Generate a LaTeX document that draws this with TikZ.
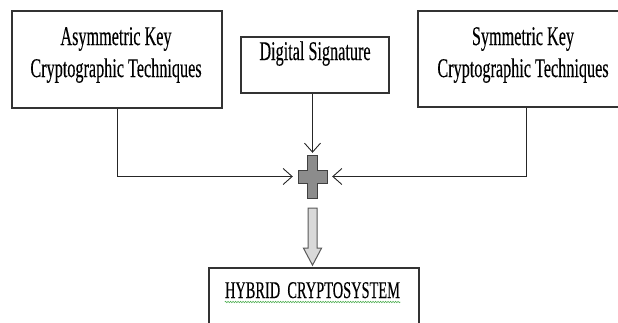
\documentclass[tikz,border=0pt]{standalone}
\usepackage{xcolor}
\usepackage{fontspec}
\usepackage{tikz}
\usetikzlibrary{arrows.meta, positioning, decorations.pathmorphing, calc}
\newfontfamily\boxfont[FakeStretch=0.6, FakeBold=0.25]{Liberation Serif}
\definecolor{boxedge}{HTML}{333333}
\definecolor{plusfill}{HTML}{8C8C8C}
\definecolor{plusedge}{HTML}{404040}
\definecolor{blockfill}{HTML}{D9D9D9}
\definecolor{blockedge}{HTML}{595959}
\definecolor{spellgreen}{HTML}{4CAF50}
\newcommand{\plussign}[1]{%
  \begin{scope}[shift={(#1)}]
    \draw[fill=plusfill, draw=plusedge, line width=1pt] (-5,-21.5) -- (5,-21.5) -- (5,-6.5) -- (14.5,-6.5) -- (14.5,6.5) -- (5,6.5) -- (5,21.5) -- (-5,21.5) -- (-5,6.5) -- (-14.5,6.5) -- (-14.5,-6.5) -- (-5,-6.5) -- cycle;
  \end{scope}%
}
\newcommand{\downblock}[1]{%
  \begin{scope}[shift={(#1)}]
    \draw[fill=blockfill, draw=blockedge, line width=1pt] (-4.5,0) -- (4.5,0) -- (4.5,40) -- (9,40) -- (0,57) -- (-9,40) -- (-4.5,40) -- cycle;
  \end{scope}%
}
\tikzset{
  techbox/.style={draw=boxedge, line width=1.2pt, fill=white, inner sep=0pt},
  techtext/.style={font=\boxfont\fontsize{27}{32}\selectfont, align=center, inner sep=0pt},
  joinline/.style={draw=black!85, line width=0.9pt, -{Straight Barb[length=9pt, width=16pt]}}
}

\begin{document}
\begin{tikzpicture}[x=1pt, y=-1pt]
    \path[use as bounding box] (0,0) rectangle (618,322);
    \clip (0,0) rectangle (618,322);

    % three inputs
    \node[techbox, minimum width=210, minimum height=97] (asym) at (117,59.5) {};
    \node[techtext] (asymtext) at (116,55) {Asymmetric Key\\Cryptographic Techniques};
    \node[techbox, minimum width=148, minimum height=56] (dig) at (315,65) {};
    \node[techtext, anchor=base] (digtext) at (315,60) {Digital Signature};
    \node[techbox, minimum width=216, minimum height=96] (sym) at (526,59) {};
    \node[techtext] (symtext) at (523,55) {Symmetric Key\\Cryptographic Techniques};

    % joining
    \node[minimum width=29, minimum height=43, inner sep=0pt] (plus) at (312.5,176.5) {};
    \plussign{plus.center}
    \draw[joinline, shorten >=5pt] (asym.south) |- (plus.west);
    \draw[joinline, shorten >=5pt] (sym.south) |- (plus.east);
    \draw[joinline, shorten >=2pt] (dig.south -| plus.north) -- (plus.north);

    % result
    \node[techbox, minimum width=210, minimum height=74] (hybrid) at (314,305) {};
    \node[techtext, font=\boxfont\fontsize{24}{28}\selectfont, anchor=base] (hybridtext) at (312.5,298) {HYBRID\ \ CRYPTOSYSTEM};
    \draw[spellgreen, line width=0.6pt, decorate, decoration={snake, amplitude=0.7pt, segment length=2.5pt}] ($(hybridtext.base west)+(0,4)$) -- ($(hybridtext.base east)+(0,4)$);
    \downblock{$(plus.south)+(0,10)$}
\end{tikzpicture}
\end{document}
